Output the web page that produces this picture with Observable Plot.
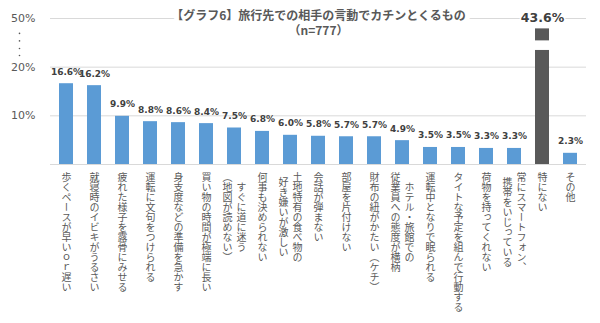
<!DOCTYPE html>
<html>
<head>
<meta charset="utf-8">
<script src="https://cdn.jsdelivr.net/npm/d3@7"></script>
<script src="https://cdn.jsdelivr.net/npm/@observablehq/plot@0.6"></script>
<style>
  html, body { margin: 0; padding: 0; background: #fff; }
  g[font-family="Noto Sans CJK JP, sans-serif"] text { writing-mode: vertical-rl; }
</style>
</head>
<body>
<div id="chart"></div>
<script>
const categories = [
  "歩くペースが早いｏｒ遅い",
  "就寝時のイビキがうるさい",
  "疲れた様子を露骨にみせる",
  "運転に文句をつけられる",
  "身支度などの準備を急かす",
  "買い物の時間が極端に長い",
  "すぐに道に迷う\n（地図が読めない）",
  "何事も決められない",
  "土地特有の食べ物の\n好き嫌いが激しい",
  "会話が弾まない",
  "部屋を片付けない",
  "財布の紐がかたい（ケチ）",
  "ホテル・旅館での\n従業員への態度が横柄",
  "運転中となりで眠られる",
  "タイトな予定を組んで行動する",
  "荷物を持ってくれない",
  "常にスマートフォン、\n携帯をいじっている",
  "特にない",
  "その他"
];
const values = [16.6, 16.2, 9.9, 8.8, 8.6, 8.4, 7.5, 6.8, 6.0, 5.8, 5.7, 5.7, 4.9, 3.5, 3.5, 3.3, 3.3, 43.6, 2.3];
const highlight = "特にない";
const yTicks = [10, 20, 50];
const axisBreak = [30.3, 36.2];
const breakDots = [27.2, 31.5, 36.2, 40.8];
const titleText = "【グラフ6】旅行先での相手の言動でカチンとくるもの\n（n=777）";

const data = categories.map((c, i) => ({cat: c, value: values[i]}));
const FS = 10;
const labelRows = categories.flatMap(c => {
  const lines = c.split("\n");
  const maxLen = d3.max(lines, l => [...l].length);
  return lines.map((line, j) => ({cat: c, line, j, n: lines.length, maxLen}));
});
const groups = d3.groups(labelRows, r => `${r.j}|${r.n}|${r.maxLen}`);
const labelMarks = groups.map(([, rows]) => {
  const {j, n, maxLen} = rows[0];
  return Plot.text(rows, {
    x: "cat", text: "line", frameAnchor: "bottom",
    dy: 8 + maxLen * FS / 2, dx: ((n - 1) / 2 - j) * 14,
    textAnchor: "middle", lineAnchor: "bottom",
    fontSize: FS, fill: "#595959", fontFamily: "Noto Sans CJK JP, sans-serif"
  });
});

const chart = Plot.plot({
  width: 600,
  height: 323,
  marginLeft: 50,
  marginRight: 14,
  marginTop: 18,
  marginBottom: 159,
  style: {color: "#595959", fontFamily: "DejaVu Sans, sans-serif", fontSize: "11px", background: "#fff"},
  x: {domain: categories, paddingInner: 0.5, paddingOuter: 0.25, axis: null},
  y: {type: "linear", domain: [0, 10, 20, 50], ticks: yTicks, tickFormat: d => d + "%", tickSize: 0, tickPadding: 15, label: null},
  marks: [
    Plot.ruleY(yTicks, {stroke: "#d9d9d9"}),
    Plot.ruleY([0], {stroke: "#d9d9d9"}),
    Plot.text([titleText], {
      frameAnchor: "top", text: d => d, lineAnchor: "top", dy: -10, lineHeight: 1.3,
      fontSize: 12, fontWeight: "bold", fill: "#595959", stroke: "white", strokeWidth: 10,
      fontFamily: "Noto Sans CJK JP"
    }),
    Plot.barY(data, {x: "cat", y: "value", fill: d => d.cat === highlight ? "#595959" : "#5B9BD5"}),
    Plot.barY([highlight], {x: d => d, y1: axisBreak[0], y2: axisBreak[1], fill: "white", insetLeft: -2, insetRight: -2}),
    Plot.text(data.filter(d => d.cat !== highlight), {
      x: "cat", y: "value", text: d => d.value.toFixed(1) + "%", dy: -12,
      fontSize: 9, fontWeight: "bold", fill: "#404040"
    }),
    Plot.text(data.filter(d => d.cat === highlight), {
      x: "cat", y: "value", text: d => d.value.toFixed(1) + "%", dy: -11,
      fontSize: 12.5, fontWeight: "bold", fill: "#404040", stroke: "white", strokeWidth: 3
    }),
    Plot.dot(breakDots, {y: d => d, frameAnchor: "left", dx: -31, r: 0.8, fill: "#595959", stroke: null}),
    ...labelMarks
  ]
});
document.getElementById("chart").appendChild(chart);
</script>
</body>
</html>
